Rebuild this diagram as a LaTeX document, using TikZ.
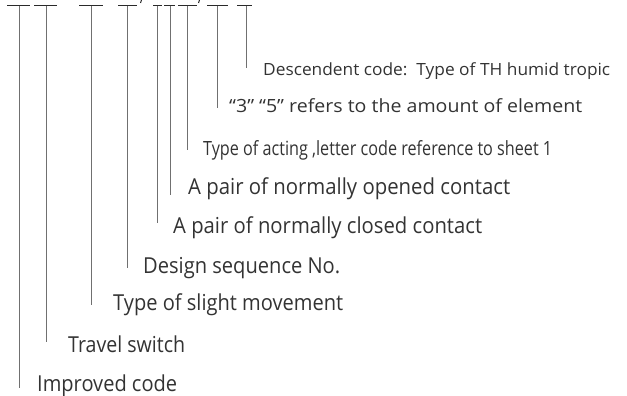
\documentclass[tikz,border=0pt]{standalone}
\usepackage{fontspec}
\setmainfont{Open Sans}
\usepackage{graphicx}
\definecolor{txt}{HTML}{333333}
\definecolor{lead}{HTML}{707070}
\definecolor{bar}{HTML}{2a2a2a}
\newcommand{\lbl}[3]{\resizebox{#1pt}{\height}{\fontsize{#2pt}{#2pt}\selectfont #3}}
\begin{document}
\begin{tikzpicture}[x=1pt,y=-1pt,
  leader/.style={draw=lead,line width=1pt},
  topbar/.style={draw=bar,line width=1pt},
  lab/.style={anchor=base west,inner sep=0pt,text=txt}]
\useasboundingbox (0,0) rectangle (627,396);
% top bars
\foreach \n/\a/\b in {1/7/30,2/34/57,3/79/103,4/118/137,5/153/162,6/164/175,7/178/197,8/207/228,9/237/252}{
  \coordinate (bl\n) at (\a,6);
  \coordinate (br\n) at (\b,6);
  \draw[topbar] (bl\n) -- (br\n);
}
% cut-off marks at top
\coordinate (c1a) at (141.5,0); \coordinate (c1b) at (140.5,3);
\coordinate (c2a) at (199.5,0); \coordinate (c2b) at (198.5,3);
\draw[bar,line width=1pt] (c1a) -- (c1b);
\draw[bar,line width=1pt] (c2a) -- (c2b);
% verticals: n / x / end y
\foreach \n/\x/\e in {1/19/388,2/46/342,3/91/305,4/127/268,5/157/223,6/170/195,7/187/150,8/217/108,9/246/68}{
  \coordinate (t\n) at (\x,6);
  \coordinate (e\n) at (\x,\e);
  \draw[leader] (t\n) -- (e\n);
}
% labels
\node[lab] (l1) at (37,391) {\lbl{140}{22}{Improved code}};
\node[lab] (l2) at (68,352) {\lbl{117}{22}{Travel switch}};
\node[lab] (l3) at (113,310) {\lbl{230}{22}{Type of slight movement}};
\node[lab] (l4) at (143,273) {\lbl{197}{22}{Design sequence No.}};
\node[lab] (l5) at (173,233) {\lbl{309}{22}{A pair of normally closed contact}};
\node[lab] (l6) at (188,194) {\lbl{322}{22}{A pair of normally opened contact}};
\node[lab] (l7) at (203,155) {\lbl{349}{19.6}{Type of acting ,letter code reference to sheet 1}};
\node[lab] (l8) at (229,112) {\lbl{353}{18.2}{“3” “5” refers to the amount of element}};
\node[lab] (l9) at (263,75) {\lbl{347}{16.8}{Descendent code:\ \ Type of TH humid tropic}};
\end{tikzpicture}
\end{document}
